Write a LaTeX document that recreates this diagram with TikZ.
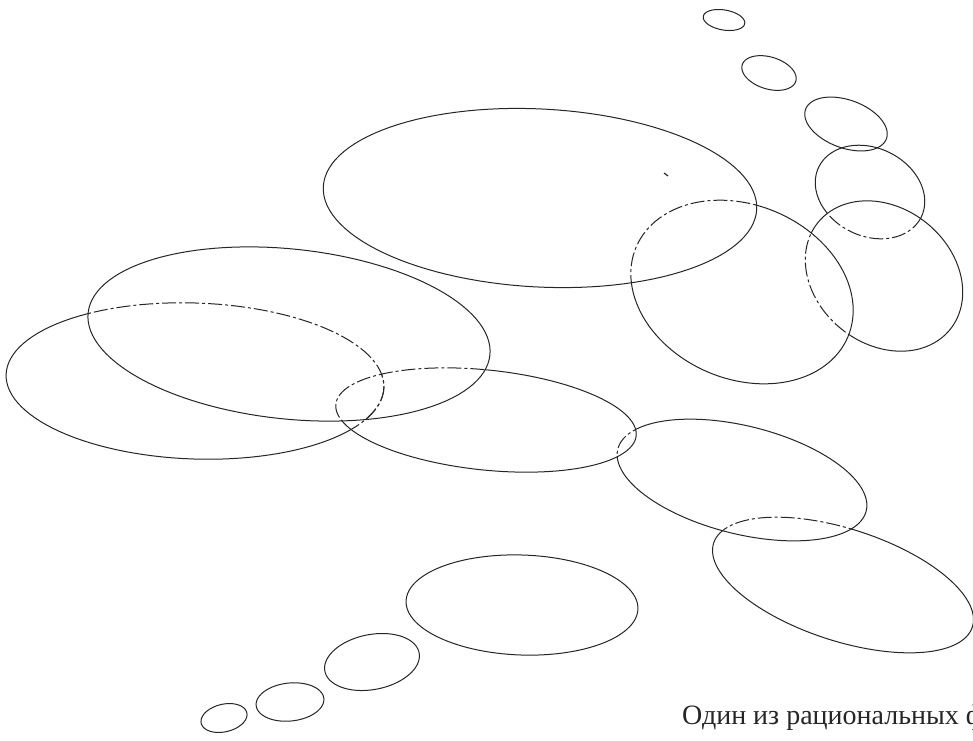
\documentclass[tikz,border=0pt]{standalone}
\usepackage{fontspec}
\newfontfamily\txtfont{Liberation Serif}
% oval as a closed plot: centre x, centre y, semi-axis a, semi-axis b, angle
\newcommand\shp[5]{plot ({#1+#3*cos(\t)*cos(#5)+#4*sin(\t)*sin(#5)},{#2-#3*cos(\t)*sin(#5)+#4*sin(\t)*cos(#5)}) -- cycle}
\def\ovA{\shp{724}{20}{21}{10}{-10}}
\def\ovB{\shp{769}{73}{28}{16}{-17}}
\def\ovC{\shp{846}{124}{43}{24}{-20}}
\def\ovD{\shp{870}{192}{57}{44}{-26}}
\def\ovE{\shp{884}{276}{85}{68}{-39}}
\def\ovF{\shp{742}{292}{115}{87}{-23}}
\def\ovG{\shp{540}{198}{217}{89}{-3}}
\def\ovH{\shp{289}{334}{202}{85}{-6}}
\def\ovI{\shp{195}{381}{189}{78}{-2}}
\def\ovJ{\shp{486}{420}{151}{50}{-6}}
\def\ovK{\shp{742}{480}{128}{54}{-14}}
\def\ovL{\shp{843}{585}{136}{56}{-18}}
\def\ovM{\shp{522}{605}{116}{50}{-2}}
\def\ovN{\shp{372}{662}{48}{27.5}{11}}
\def\ovO{\shp{290}{702}{34}{19}{6}}
\def\ovP{\shp{224}{718}{23.4}{13.8}{13}}
% big frame drawn in the opposite sense to the ovals: clipping to oval+frame keeps the outside
\def\outside{(-5000,-5000) -- (-5000,6000) -- (6000,6000) -- (6000,-5000) -- cycle}
\begin{document}
\begin{tikzpicture}[x=1pt,y=-1pt,domain=0:360,samples=121,variable=\t,
  ln/.style={draw=black!85,line width=1pt},
  hid/.style={dash pattern=on 14pt off 3pt on 3pt off 3pt}]
\useasboundingbox[fill=white] (0,0) rectangle (973,740);
% visible ovals
\draw[ln] \ovA;
\draw[ln] \ovB;
\draw[ln] \ovC;
\draw[ln] \ovG;
\draw[ln] \ovH;
\draw[ln] \ovM;
\draw[ln] \ovN;
\draw[ln] \ovO;
\draw[ln] \ovP;
% D behind E
\begin{scope}\clip \ovE \outside; \draw[ln] \ovD; \end{scope}
\begin{scope}\clip \ovE; \draw[ln,hid] \ovD; \end{scope}
% E behind F
\begin{scope}\clip \ovF \outside; \draw[ln] \ovE; \end{scope}
\begin{scope}\clip \ovF; \draw[ln,hid] \ovE; \end{scope}
% F behind G
\begin{scope}\clip \ovG \outside; \draw[ln] \ovF; \end{scope}
\begin{scope}\clip \ovG; \draw[ln,hid] \ovF; \end{scope}
% I behind H and J
\begin{scope}\clip \ovH \outside; \clip \ovJ \outside; \draw[ln] \ovI; \end{scope}
\begin{scope}\clip \ovH; \draw[ln,hid] \ovI; \end{scope}
\begin{scope}\clip \ovJ; \draw[ln,hid] \ovI; \end{scope}
% J behind H
\begin{scope}\clip \ovH \outside; \draw[ln] \ovJ; \end{scope}
\begin{scope}\clip \ovH; \draw[ln,hid] \ovJ; \end{scope}
% K behind J
\begin{scope}\clip \ovJ \outside; \draw[ln] \ovK; \end{scope}
\begin{scope}\clip \ovJ; \draw[ln,hid] \ovK; \end{scope}
% L behind K
\begin{scope}\clip \ovK \outside; \draw[ln] \ovL; \end{scope}
\begin{scope}\clip \ovK; \draw[ln,hid] \ovL; \end{scope}
% speck
\draw[black!85,line width=1.2pt] (664,173) -- (668,176);
% text (cut by the right edge, as in the reference)
\node[anchor=base west,inner sep=0pt,text=black!85,font=\txtfont\fontsize{28}{34}\selectfont] (cap) at (682,724) {Один из рациональных ф};
\end{tikzpicture}
\end{document}
